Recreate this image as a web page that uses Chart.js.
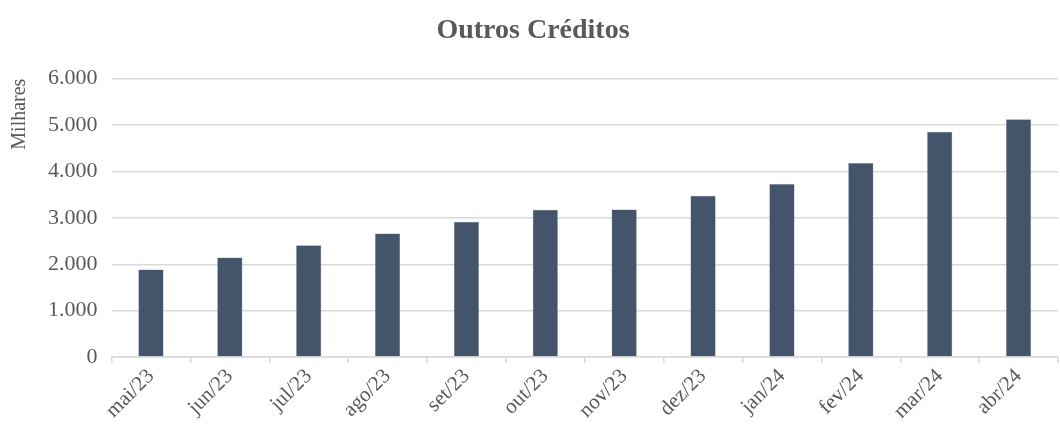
<!DOCTYPE html>
<html lang="pt">
<head>
    <meta charset="UTF-8">
    <title>Outros Créditos</title>
    <script src="https://cdn.jsdelivr.net/npm/chart.js"></script>
    <style>
        html, body {
            margin: 0;
            padding: 0;
            background: #fff;
        }
        #wrap {
            width: 1060px;
            height: 435px;
        }
    </style>
</head>
<body>
    <div id="wrap"><canvas id="chart"></canvas></div>

    <script>
        const months = ['mai/23', 'jun/23', 'jul/23', 'ago/23', 'set/23', 'out/23',
                        'nov/23', 'dez/23', 'jan/24', 'fev/24', 'mar/24', 'abr/24'];
        const outrosCreditos = [1886, 2145, 2412, 2664, 2916, 3175, 3182, 3477, 3730, 4183, 4853, 5126];
        const yTicks = [0, 1000, 2000, 3000, 4000, 5000, 6000];

        const fontFamily = "'Liberation Serif', 'DejaVu Serif', serif";
        const textColor = '#595959';

        function formatThousands(v) {
            return String(v).replace(/\B(?=(\d{3})+(?!\d))/g, '.');
        }

        new Chart(document.getElementById('chart'), {
            type: 'bar',
            data: {
                labels: months,
                datasets: [{
                    label: 'Outros Créditos',
                    data: outrosCreditos,
                    backgroundColor: '#44546A',
                    borderColor: '#8a97a8',
                    borderWidth: 0.5,
                    barPercentage: 0.64,
                    categoryPercentage: 0.5
                }]
            },
            options: {
                responsive: true,
                maintainAspectRatio: false,
                animation: false,
                layout: {
                    padding: { top: 8, left: 8, right: 2, bottom: 10 }
                },
                plugins: {
                    legend: { display: false },
                    tooltip: { enabled: false },
                    title: {
                        display: true,
                        text: 'Outros Créditos',
                        color: textColor,
                        font: { family: fontFamily, size: 28, weight: 'bold' },
                        padding: { top: 6, bottom: 31 }
                    }
                },
                scales: {
                    x: {
                        grid: {
                            display: true,
                            drawOnChartArea: false,
                            drawTicks: true,
                            tickLength: 6,
                            color: '#d9d9d9',
                            lineWidth: 1.5
                        },
                        border: { display: true, color: '#d9d9d9', width: 1.5 },
                        ticks: {
                            color: textColor,
                            font: { family: fontFamily, size: 21 },
                            minRotation: 45,
                            maxRotation: 45,
                            padding: 1
                        }
                    },
                    y: {
                        min: 0,
                        max: 6000,
                        afterBuildTicks: function(axis) {
                            axis.ticks = yTicks.map(v => ({ value: v }));
                        },
                        grid: {
                            color: '#d9d9d9',
                            lineWidth: 1.5,
                            drawTicks: false
                        },
                        border: { display: false },
                        ticks: {
                            color: textColor,
                            font: { family: fontFamily, size: 22 },
                            padding: 14,
                            callback: function(value) {
                                return formatThousands(value);
                            }
                        },
                        title: {
                            display: true,
                            text: 'Milhares',
                            align: 'end',
                            color: textColor,
                            font: { family: fontFamily, size: 20 },
                            padding: { top: 0, bottom: 2 }
                        }
                    }
                }
            }
        });
    </script>
</body>
</html>
